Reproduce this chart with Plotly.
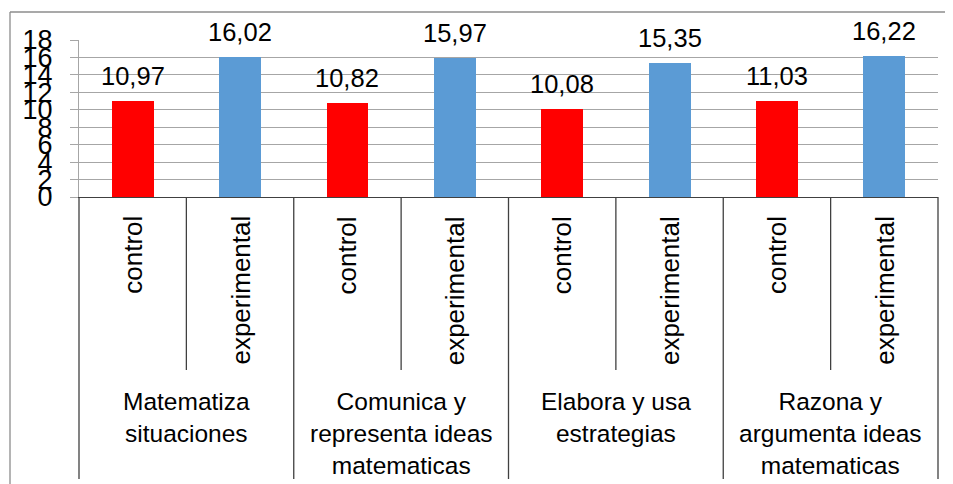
import plotly.graph_objects as go

groups = ["Matematiza<br>situaciones", "Comunica y<br>representa ideas<br>matematicas",
          "Elabora y usa<br>estrategias", "Razona y<br>argumenta ideas<br>matematicas"]
subcats = ["control", "experimental"]
control_vals = [10.97, 10.82, 10.08, 11.03]
experimental_vals = [16.02, 15.97, 15.35, 16.22]
y_ticks = [0, 2, 4, 6, 8, 10, 12, 14, 16, 18]

# page body has an 8px margin: work in window pixels and convert
OFF = 8
W, H = 953 - OFF, 484 - OFF
L = 79 - OFF
R = W - (938 - OFF)
T = 40 - OFF
B = H - (197 - OFF)
ph = H - T - B
pw = W - L - R


def py(ypx):
    return (H - B - (ypx - OFF)) / ph


def px(xpx):
    return (xpx - OFF - L) / pw


FONT = "Liberation Sans, Arial, sans-serif"
n = len(groups)
xc = [2 * i for i in range(n)]
xe = [2 * i + 1 for i in range(n)]

fig = go.Figure()
fig.add_bar(x=xc, y=control_vals, width=0.39, marker=dict(color="#FF0000", line=dict(width=0)),
            name="control")
fig.add_bar(x=xe, y=experimental_vals, width=0.39, marker=dict(color="#5B9BD5", line=dict(width=0)),
            name="experimental")

ann = []
for xs, vals in ((xc, control_vals), (xe, experimental_vals)):
    for x, v in zip(xs, vals):
        ann.append(dict(x=x, y=v, xref="x", yref="y", text=f"{v:.2f}".replace(".", ","),
                        showarrow=False, yanchor="bottom", yshift=9,
                        font=dict(size=25.5, color="#000000", family=FONT)))

for i in range(n):
    for j, s in enumerate(subcats):
        ann.append(dict(x=2 * i + j, y=py(214), xref="x", yref="paper", text=s, textangle=-90,
                        showarrow=False, yanchor="top", xanchor="center",
                        font=dict(size=26, color="#000000", family=FONT)))
    ann.append(dict(x=2 * i + 0.5, y=py(386), xref="x", yref="paper", text=groups[i],
                    showarrow=False, yanchor="top", xanchor="center",
                    font=dict(size=24.5, color="#000000", family=FONT)))

shapes = []
nslots = 2 * n
for k in range(nslots + 1):
    y1 = 479 if k % 2 == 0 else 370
    shapes.append(dict(type="line", xref="paper", yref="paper", x0=k / nslots, x1=k / nslots,
                       y0=0, y1=py(y1), line=dict(color="#404040", width=1.3)))
# outer frame
shapes.append(dict(type="line", xref="paper", yref="paper", x0=px(10), x1=px(10),
                   y0=py(12), y1=py(490), line=dict(color="#8C8C8C", width=1.3)))
shapes.append(dict(type="line", xref="paper", yref="paper", x0=px(10), x1=px(960),
                   y0=py(12), y1=py(12), line=dict(color="#8C8C8C", width=1.3)))

fig.update_layout(
    width=W, height=H, margin=dict(l=L, r=R, t=T, b=B, pad=0),
    paper_bgcolor="white", plot_bgcolor="white", showlegend=False,
    annotations=ann, shapes=shapes, bargap=0,
    font=dict(family=FONT, color="#000000"),
)
fig.update_xaxes(range=[-0.5, nslots - 0.5], showticklabels=False, showgrid=False,
                 showline=True, linecolor="#404040", linewidth=1.3, zeroline=False, ticks="")
fig.update_yaxes(range=[0, 18], tickvals=y_ticks, ticktext=[str(v) for v in y_ticks],
                 showgrid=True, gridcolor="#A6A6A6", gridwidth=1.2,
                 showline=True, linecolor="#A6A6A6", linewidth=1.2,
                 ticks="outside", ticklen=8, tickcolor="#A6A6A6", tickwidth=1.2,
                 ticklabelstandoff=12, zeroline=False,
                 tickfont=dict(size=27, color="#000000", family=FONT))

fig.write_html("out.html")
